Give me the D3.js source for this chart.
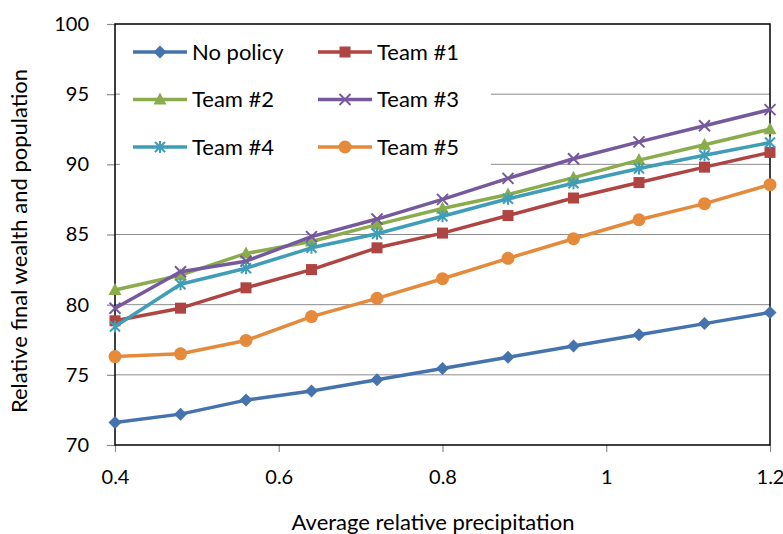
<!DOCTYPE html>
<meta charset="utf-8">
<title>Wealth vs precipitation</title>
<style>
  body { margin: 0; background: #fff; }
  svg text { font-family: Lato, "Open Sans", sans-serif; fill: #000; }
</style>
<div id="viz"></div>
<script src="https://cdnjs.cloudflare.com/ajax/libs/d3/7.8.5/d3.min.js"></script>
<script>

var width = 783;
var height = 534;

// x values: average relative precipitation
var precip = [0.4, 0.48, 0.56, 0.64, 0.72, 0.8, 0.88, 0.96, 1.04, 1.12, 1.2];

var seriesNames = ["No policy", "Team #1", "Team #2", "Team #3", "Team #4", "Team #5"];

var noPolicy = [71.6, 72.2, 73.2, 73.85, 74.65, 75.45, 76.25, 77.05, 77.85, 78.65, 79.45];
var team1 = [78.85, 79.75, 81.2, 82.5, 84.05, 85.1, 86.35, 87.6, 88.7, 89.8, 90.85];
var team2 = [81.05, 82.1, 83.65, 84.5, 85.7, 86.85, 87.85, 89.05, 90.3, 91.4, 92.5];
var team3 = [79.75, 82.35, 83.1, 84.85, 86.1, 87.5, 89.0, 90.4, 91.6, 92.75, 93.9];
var team4 = [78.45, 81.45, 82.6, 84.05, 85.05, 86.3, 87.55, 88.65, 89.7, 90.65, 91.55];
var team5 = [76.3, 76.5, 77.45, 79.15, 80.45, 81.85, 83.3, 84.7, 86.05, 87.2, 88.55];

var xTicks = [0.4, 0.6, 0.8, 1, 1.2];
var yTicks = [70, 75, 80, 85, 90, 95, 100];

var colors = ["#4473ad", "#ae4542", "#8aac4c", "#76599c", "#3f9db8", "#e5893b"];
var markers = ["diamond", "square", "triangle", "x", "asterisk", "circle"];

var allValues = [noPolicy, team1, team2, team3, team4, team5];

var margin = {left: 115, right: 13, top: 24, bottom: 89};

var x = d3.scaleLinear().domain([0.4, 1.2]).range([margin.left, width - margin.right]);
var y = d3.scaleLinear().domain([70, 100]).range([height - margin.bottom, margin.top]);

var svg = d3.select("#viz").append("svg")
  .attr("width", width)
  .attr("height", height);

// gridlines
svg.append("g")
  .selectAll("line")
  .data(yTicks.slice(1, -1))
  .join("line")
  .attr("x1", x(0.4)).attr("x2", x(1.2))
  .attr("y1", d => y(d)).attr("y2", d => y(d))
  .attr("stroke", "#8c8c8c")
  .attr("stroke-width", 1);

// axes
var xAxis = svg.append("g")
  .attr("transform", "translate(0," + y(70) + ")")
  .call(d3.axisBottom(x).tickValues(xTicks).tickSize(7).tickSizeOuter(0).tickPadding(18)
    .tickFormat(d => d3.format("")(+d.toFixed(1))));
var yAxis = svg.append("g")
  .attr("transform", "translate(" + x(0.4) + ",0)")
  .call(d3.axisLeft(y).tickValues(yTicks).tickSize(8).tickSizeOuter(0).tickPadding(18));

[xAxis, yAxis].forEach(function(a) {
  a.select(".domain").remove();
  a.selectAll(".tick line").attr("stroke", "#8c8c8c").attr("stroke-width", 1.2);
  a.selectAll(".tick text").style("font-size", "20px").attr("font-family", null);
});
xAxis.selectAll(".tick text").attr("dy", "0.71em");

// plot border
svg.append("rect")
  .attr("x", x(0.4)).attr("y", y(100))
  .attr("width", x(1.2) - x(0.4)).attr("height", y(70) - y(100))
  .attr("fill", "none").attr("stroke", "#000").attr("stroke-width", 1.5);

function drawMarker(g, type, color) {
  switch (type) {
    case "diamond":
      g.append("path").attr("d", "M0,-6.5 L6.5,0 L0,6.5 L-6.5,0 Z").attr("fill", color);
      break;
    case "square":
      g.append("rect").attr("x", -5.5).attr("y", -5.5).attr("width", 11).attr("height", 11).attr("fill", color);
      break;
    case "triangle":
      g.append("path").attr("d", "M0,-7 L6.5,5 L-6.5,5 Z").attr("fill", color);
      break;
    case "x":
      g.append("path").attr("d", "M-5.5,-5.5 L5.5,5.5 M-5.5,5.5 L5.5,-5.5")
        .attr("stroke", color).attr("stroke-width", 2).attr("fill", "none");
      break;
    case "asterisk":
      g.append("path").attr("d", "M-5,-5 L5,5 M-5,5 L5,-5 M0,-6 L0,6")
        .attr("stroke", color).attr("stroke-width", 2).attr("fill", "none");
      break;
    case "circle":
      g.append("circle").attr("r", 6.5).attr("fill", color);
      break;
  }
}

var line = d3.line()
  .x((d, i) => x(precip[i]))
  .y(d => y(d));

// series
allValues.forEach(function(vals, si) {
  var g = svg.append("g");
  g.append("path")
    .attr("d", line(vals))
    .attr("fill", "none")
    .attr("stroke", colors[si])
    .attr("stroke-width", 3.5)
    .attr("stroke-linejoin", "round");
  vals.forEach(function(v, i) {
    var m = g.append("g").attr("transform", "translate(" + x(precip[i]) + "," + y(v) + ")");
    drawMarker(m, markers[si], colors[si]);
  });
});

// legend
var legend = svg.append("g");
legend.append("rect")
  .attr("x", 120).attr("y", 27).attr("width", 371).attr("height", 146)
  .attr("fill", "#fff");
seriesNames.forEach(function(name, i) {
  var col = i % 2, row = Math.floor(i / 2);
  var lx = 133 + col * 185, ly = 52 + row * 47.5;
  var g = legend.append("g");
  g.append("line").attr("x1", lx).attr("x2", lx + 54).attr("y1", ly).attr("y2", ly)
    .attr("stroke", colors[i]).attr("stroke-width", 3.5);
  var m = g.append("g").attr("transform", "translate(" + (lx + 27) + "," + ly + ")");
  drawMarker(m, markers[i], colors[i]);
  g.append("text").attr("x", lx + 59).attr("y", ly).attr("dy", "0.35em")
    .style("font-size", "22px").text(name);
});

// axis titles
svg.append("text")
  .attr("x", 433).attr("y", 522)
  .attr("dy", "0.35em")
  .attr("text-anchor", "middle")
  .style("font-size", "22px")
  .text("Average relative precipitation");

svg.append("text")
  .attr("transform", "translate(19,241) rotate(-90)")
  .attr("dy", "0.35em")
  .attr("text-anchor", "middle")
  .style("font-size", "22px")
  .text("Relative final wealth and population");

</script>
